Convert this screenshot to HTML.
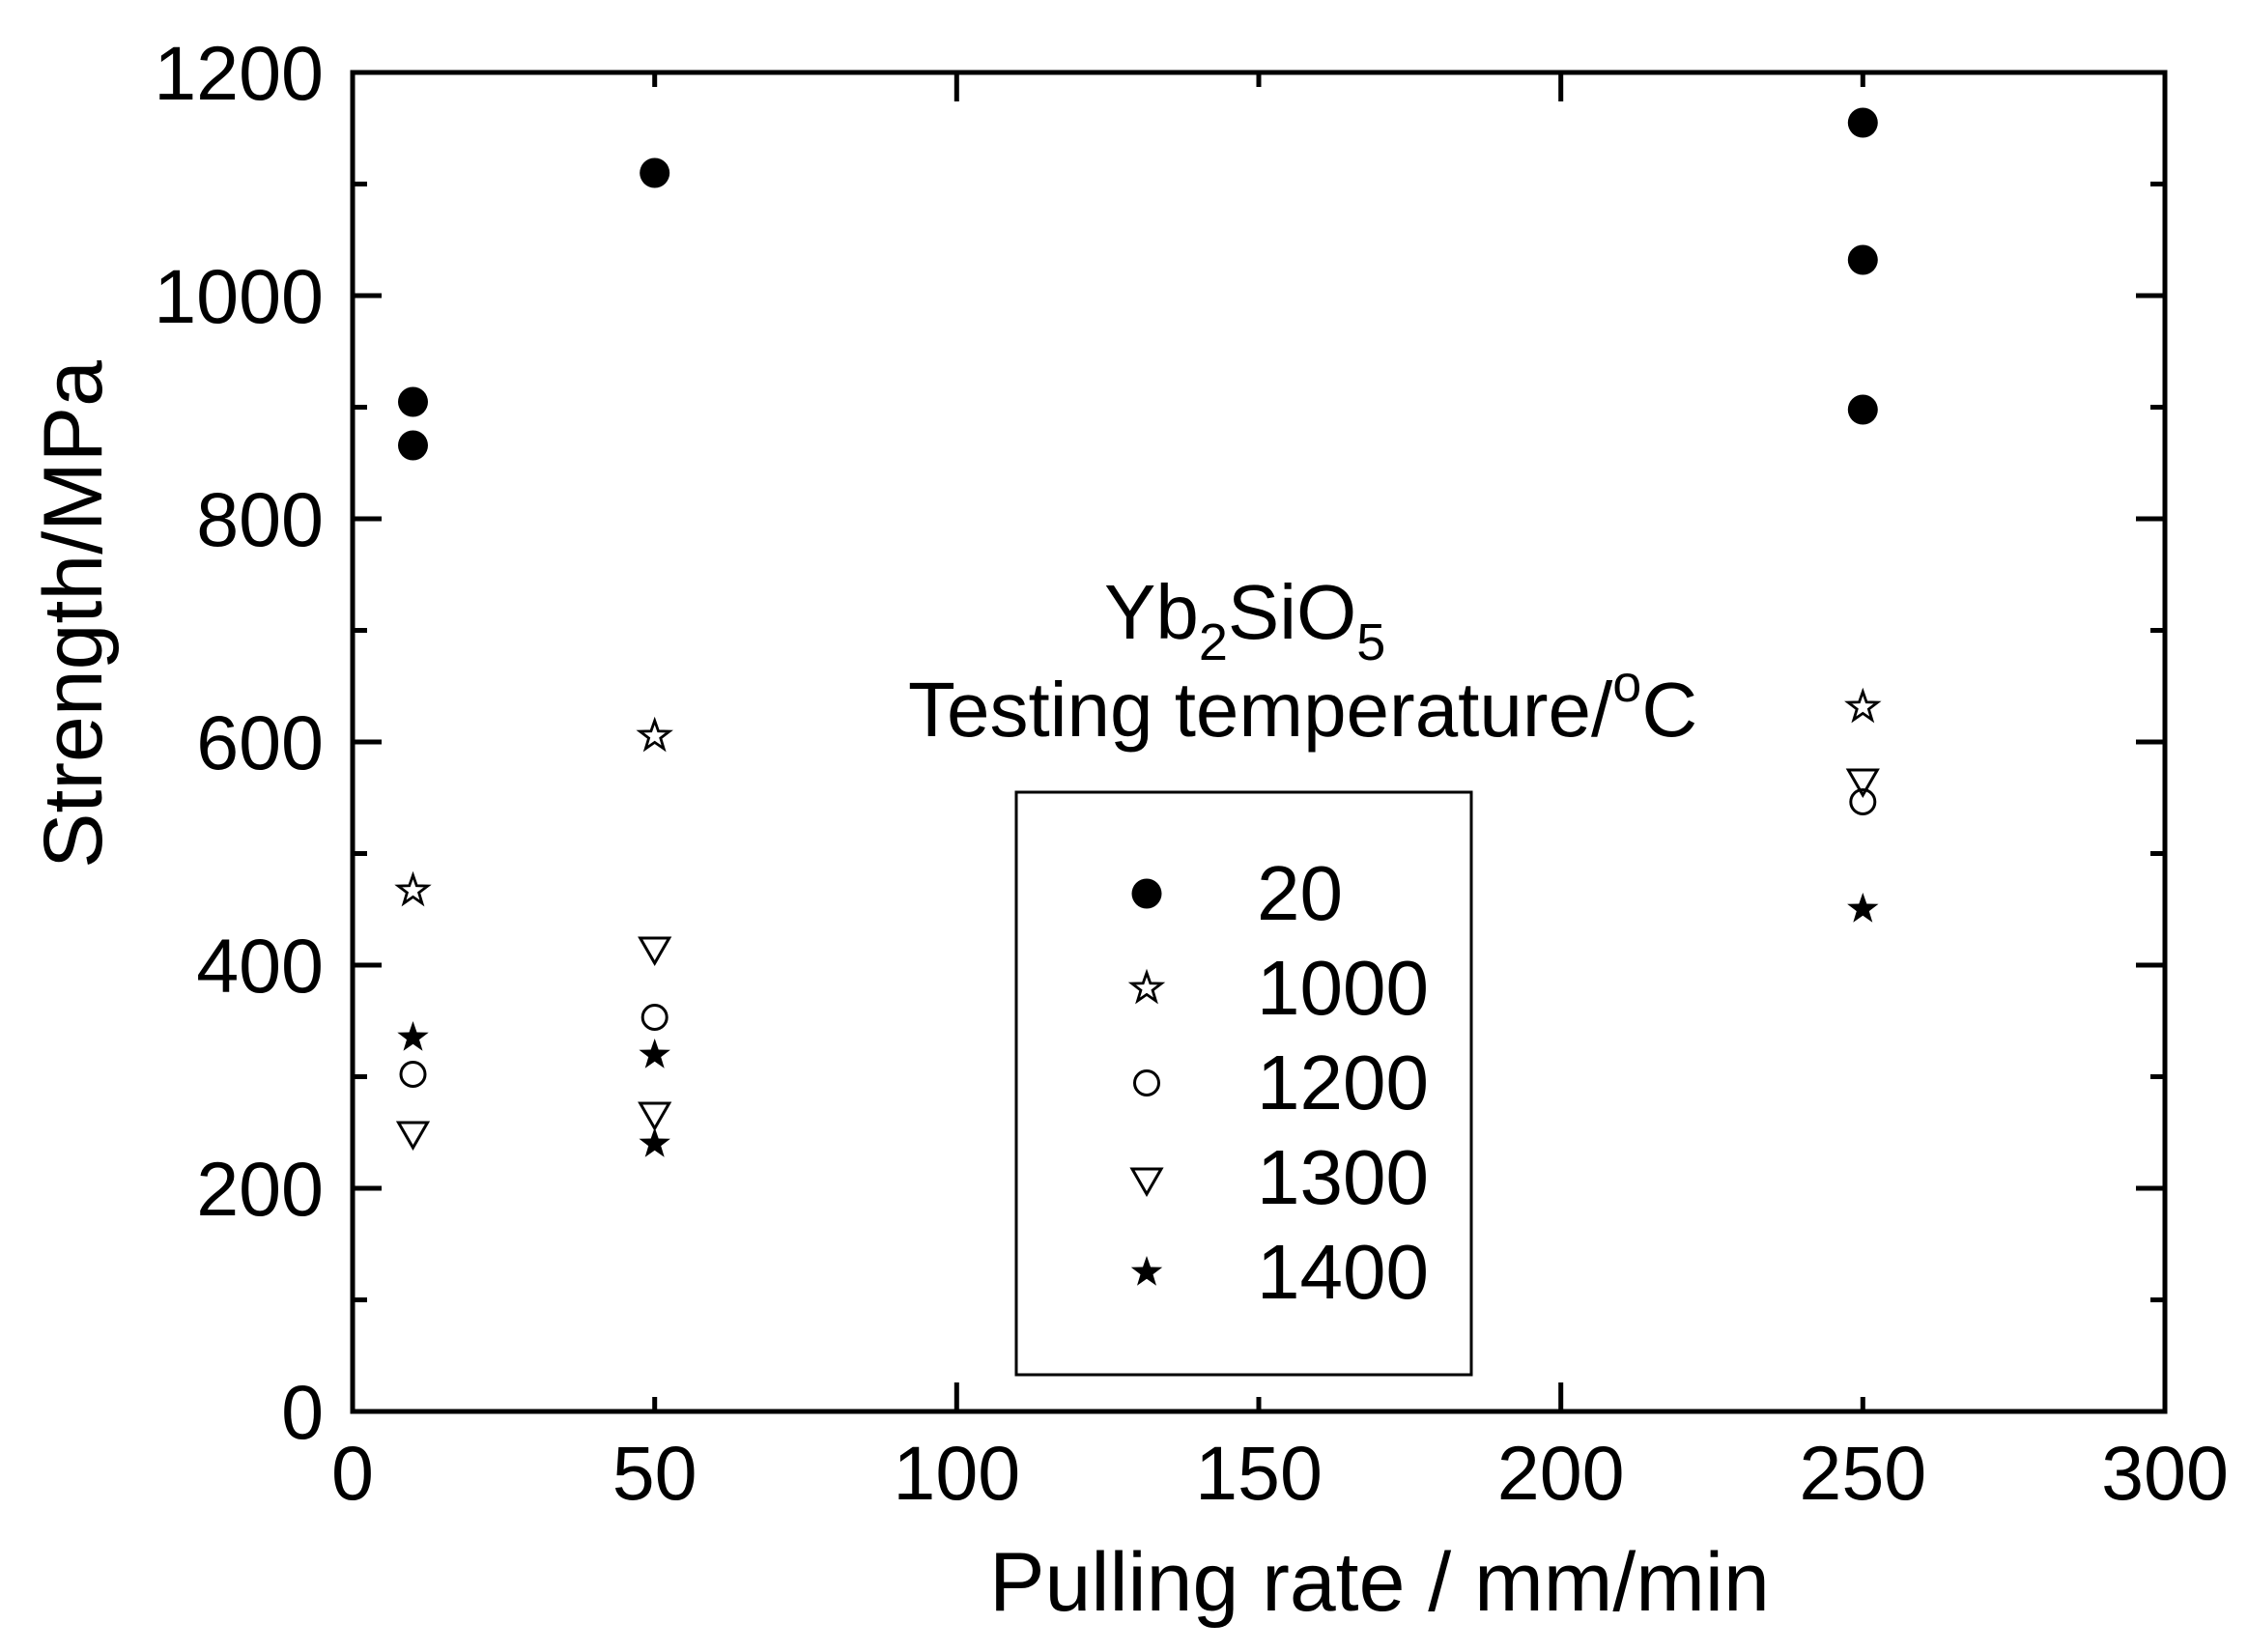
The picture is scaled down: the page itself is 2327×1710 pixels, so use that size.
<!DOCTYPE html>
<html><head><meta charset="utf-8"><style>html,body{margin:0;padding:0;background:#fff}svg{display:block}</style></head>
<body>
<svg width="2327" height="1710" viewBox="0 0 2327 1710" xmlns="http://www.w3.org/2000/svg" font-family="Liberation Sans, Arial, sans-serif">
<defs>
<circle id="fc" r="15.5" fill="#000"/>
<circle id="oc" r="12.5" fill="none" stroke="#000" stroke-width="3"/>
<path id="ot" d="M-15,-11 L15,-11 L0,15 Z" fill="none" stroke="#000" stroke-width="3" stroke-linejoin="miter"/>
<path id="os" d="M0,-16 L3.8,-5.2 L15.2,-4.9 L6.1,2 L9.4,12.9 L0,6.4 L-9.4,12.9 L-6.1,2 L-15.2,-4.9 L-3.8,-5.2 Z" fill="none" stroke="#000" stroke-width="2.8"/>
<path id="fs" d="M0,-17 L4,-5.5 L16.2,-5.2 L6.5,2.1 L10,13.7 L0,6.8 L-10,13.7 L-6.5,2.1 L-16.2,-5.2 L-4,-5.5 Z" fill="#000"/>
</defs>
<g stroke="#000" stroke-width="5" fill="none" stroke-linecap="square">
<rect x="365" y="75" width="1876" height="1386"/>
</g>
<g stroke="#000" stroke-width="5">
<path d="M365,1461v-30M677.7,1461v-15M990.3,1461v-30M1303,1461v-15M1615.7,1461v-30M1928.3,1461v-15M2241,1461v-30
M365,75v30M677.7,75v15M990.3,75v30M1303,75v15M1615.7,75v30M1928.3,75v15M2241,75v30"/>
<path d="M365,1461h30M365,1345.5h15M365,1230h30M365,1114.5h15M365,999h30M365,883.5h15M365,768h30M365,652.5h15M365,537h30M365,421.5h15M365,306h30M365,190.5h15M365,75h30
M2241,1461h-30M2241,1345.5h-15M2241,1230h-30M2241,1114.5h-15M2241,999h-30M2241,883.5h-15M2241,768h-30M2241,652.5h-15M2241,537h-30M2241,421.5h-15M2241,306h-30M2241,190.5h-15M2241,75h-30"/>
</g>
<g font-size="79" fill="#000" text-anchor="end">
<text x="335" y="1489">0</text>
<text x="335" y="1258">200</text>
<text x="335" y="1027">400</text>
<text x="335" y="796">600</text>
<text x="335" y="565">800</text>
<text x="335" y="334">1000</text>
<text x="335" y="103">1200</text>
</g>
<g font-size="79" fill="#000" text-anchor="middle">
<text x="365" y="1552">0</text>
<text x="677.7" y="1552">50</text>
<text x="990.3" y="1552">100</text>
<text x="1303" y="1552">150</text>
<text x="1615.7" y="1552">200</text>
<text x="1928.3" y="1552">250</text>
<text x="2241" y="1552">300</text>
</g>
<text x="1428" y="1667" font-size="86" text-anchor="middle">Pulling rate / mm/min</text>
<text transform="translate(105,636) rotate(-90)" font-size="86" text-anchor="middle">Strength/MPa</text>
<use href="#fc" x="427.5" y="416"/><use href="#fc" x="427.5" y="461"/>
<use href="#fc" x="677.7" y="179"/>
<use href="#fc" x="1928.3" y="127"/><use href="#fc" x="1928.3" y="269"/><use href="#fc" x="1928.3" y="424"/>
<use href="#os" x="427.5" y="922"/><use href="#os" x="677.7" y="762"/><use href="#os" x="1928.3" y="732"/>
<use href="#oc" x="427.5" y="1112"/><use href="#oc" x="677.7" y="1053"/><use href="#oc" x="1928.3" y="830"/>
<use href="#ot" x="427.5" y="1173"/><use href="#ot" x="677.7" y="982"/><use href="#ot" x="677.7" y="1153"/><use href="#ot" x="1928.3" y="808"/>
<use href="#fs" x="427.5" y="1074"/><use href="#fs" x="677.7" y="1092"/><use href="#fs" x="677.7" y="1184"/><use href="#fs" x="1928.3" y="941"/>
<text x="1143" y="661" font-size="80">Yb<tspan font-size="54" dy="22">2</tspan><tspan dy="-22">SiO</tspan><tspan font-size="54" dy="22">5</tspan></text>
<text x="940" y="762" font-size="80">Testing temperature/<tspan font-size="54" dy="-36">o</tspan><tspan dy="36">C</tspan></text>
<rect x="1052" y="820" width="471" height="603" fill="none" stroke="#000" stroke-width="3"/>
<use href="#fc" x="1187" y="925"/>
<use href="#os" x="1187" y="1023"/>
<use href="#oc" x="1187" y="1121"/>
<use href="#ot" x="1187" y="1221"/>
<use href="#fs" x="1187" y="1317"/>
<g font-size="80">
<text x="1301" y="952">20</text>
<text x="1301" y="1050">1000</text>
<text x="1301" y="1148">1200</text>
<text x="1301" y="1246">1300</text>
<text x="1301" y="1344">1400</text>
</g>
</svg>
</body></html>
